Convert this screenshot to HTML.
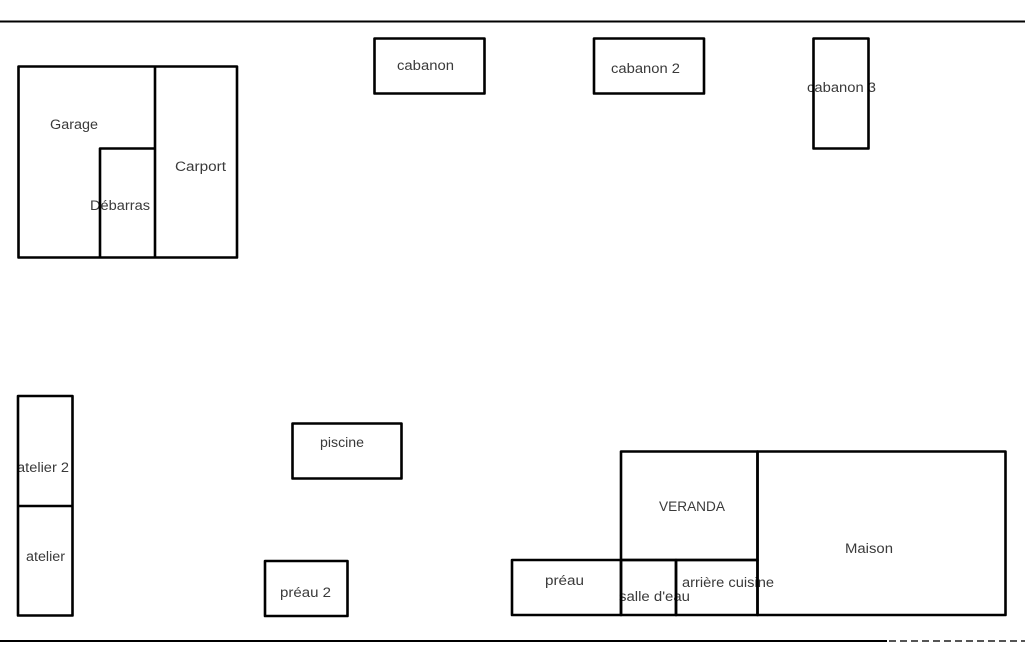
<!DOCTYPE html>
<html><head><meta charset="utf-8"><style>
html,body{margin:0;padding:0;background:#fff;}
svg{display:block;}
text{font-family:"Liberation Sans",sans-serif;font-size:13.5px;fill:#3a3a3a;}
</style></head><body>
<svg width="1025" height="650" viewBox="0 0 1025 650" xmlns="http://www.w3.org/2000/svg">
<rect width="1025" height="650" fill="#fff"/>
<g>
<text x="50" y="129" textLength="48" lengthAdjust="spacingAndGlyphs">Garage</text>
<text x="175" y="171" textLength="51" lengthAdjust="spacingAndGlyphs">Carport</text>
<text x="90" y="210" textLength="60" lengthAdjust="spacingAndGlyphs">Débarras</text>
<text x="397" y="70" textLength="57" lengthAdjust="spacingAndGlyphs">cabanon</text>
<text x="611" y="73" textLength="69" lengthAdjust="spacingAndGlyphs">cabanon 2</text>
<text x="807" y="92" textLength="69" lengthAdjust="spacingAndGlyphs">cabanon 3</text>
<text x="17" y="472" textLength="52" lengthAdjust="spacingAndGlyphs">atelier 2</text>
<text x="26" y="561" textLength="39" lengthAdjust="spacingAndGlyphs">atelier</text>
<text x="320" y="447" textLength="44" lengthAdjust="spacingAndGlyphs">piscine</text>
<text x="280" y="597" textLength="51" lengthAdjust="spacingAndGlyphs">préau 2</text>
<text x="659" y="511" textLength="66" lengthAdjust="spacingAndGlyphs">VERANDA</text>
<text x="845" y="553" textLength="48" lengthAdjust="spacingAndGlyphs">Maison</text>
<text x="545" y="585" textLength="39" lengthAdjust="spacingAndGlyphs">préau</text>
<text x="619" y="601" textLength="71" lengthAdjust="spacingAndGlyphs">salle d'eau</text>
<text x="682" y="587" textLength="92" lengthAdjust="spacingAndGlyphs">arrière cuisine</text>
</g>
<g fill="none" stroke="#000" stroke-width="2.6" stroke-linejoin="round">
<!-- top/bottom lines -->
<line x1="0" y1="21.5" x2="1025" y2="21.5" stroke-width="2"/>
<line x1="0" y1="641" x2="887" y2="641" stroke-width="2"/>
<line x1="889" y1="641" x2="1025" y2="641" stroke-width="2" stroke="#555" stroke-dasharray="7,4"/>
<!-- garage group -->
<rect x="18.5" y="66.5" width="218.5" height="191"/>
<line x1="155" y1="66.5" x2="155" y2="257.5"/>
<polyline points="100,257.5 100,148.5 155,148.5"/>
<!-- cabanons -->
<rect x="374.5" y="38.5" width="110" height="55"/>
<rect x="594" y="38.5" width="110" height="55"/>
<rect x="813.5" y="38.5" width="55" height="110"/>
<!-- ateliers -->
<rect x="18" y="396" width="54.5" height="219.5"/>
<line x1="18" y1="506" x2="72.5" y2="506"/>
<!-- piscine, preau 2 -->
<rect x="292.5" y="423.5" width="109" height="55"/>
<rect x="265" y="561" width="82.5" height="55"/>
<!-- maison group -->
<rect x="621" y="451.5" width="136.5" height="108.5"/>
<rect x="757.5" y="451.5" width="248" height="163.5"/>
<rect x="512" y="560" width="109" height="55"/>
<rect x="621" y="560" width="55" height="55"/>
<rect x="676" y="560" width="81.5" height="55"/>
</g>
</svg>
</body></html>
